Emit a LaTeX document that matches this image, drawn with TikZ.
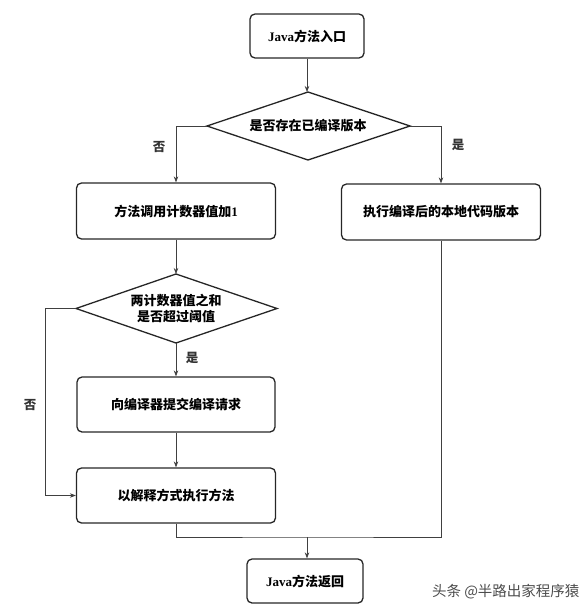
\documentclass[tikz,border=0pt]{standalone}
\usepackage{fontspec}
\setmainfont{Liberation Serif}
\newfontfamily\cjk{Noto Sans CJK SC}
\newcommand{\lat}[1]{{\rmfamily\bfseries #1}}
\usetikzlibrary{arrows.meta}
\tikzset{
  box/.style={draw=black!85, line width=1.3pt, rounded corners=5pt, inner sep=0pt, align=center, font=\cjk\bfseries\fontsize{13}{16}\selectfont},
  dec/.style={draw=black!85, line width=1.3pt, line join=miter},
  dectext/.style={inner sep=0pt, align=center, font=\cjk\bfseries\fontsize{13}{16}\selectfont},
  conn/.style={draw=black!75, line width=0.7pt},
  arr/.style={conn, -{Stealth[length=6pt,width=4.5pt]}},
  lbl/.style={font=\cjk\bfseries\fontsize{12.5}{15}\selectfont, text=black!80},
}
\begin{document}
\begin{tikzpicture}[x=1pt,y=-1pt]
\useasboundingbox (0,0) rectangle (588,605);
\node[box, minimum width=114pt, minimum height=44pt] (n1) at (307,36) {\lat{Java}方法入口};
% decision 1
\coordinate (d1n) at (308,92);
\coordinate (d1s) at (308,160);
\coordinate (d1w) at (207,126);
\coordinate (d1e) at (410,126);
\draw[dec] (d1n) -- (d1e) -- (d1s) -- (d1w) -- cycle;
\node[dectext] (d1) at (308,126) {是否存在已编译版本};
\node[box, minimum width=199pt, minimum height=56pt] (b2) at (176,211) {方法调用计数器值加\lat{1}};
\node[box, minimum width=199pt, minimum height=56pt] (b3) at (441,212) {执行编译后的本地代码版本};
% decision 2
\coordinate (d2n) at (176,274);
\coordinate (d2s) at (176,343);
\coordinate (d2w) at (76,308.5);
\coordinate (d2e) at (277,308.5);
\draw[dec] (d2n) -- (d2e) -- (d2s) -- (d2w) -- cycle;
\node[dectext] (d2) at (176,308.5) {两计数器值之和\\是否超过阈值};
\node[box, minimum width=198pt, minimum height=55pt] (b4) at (176,404.5) {向编译器提交编译请求};
\node[box, minimum width=199pt, minimum height=55pt] (b5) at (176,495.5) {以解释方式执行方法};
\node[box, minimum width=116pt, minimum height=44pt] (b6) at (305,581) {\lat{Java}方法返回};
\coordinate (j) at (307,537);
\coordinate (lft) at (45,308.5);

\draw[arr] (n1.south) -- (n1.south |- d1n);
\draw[arr] (d1w) -| (b2.north);
\draw[arr] (d1e) -| (b3.north);
\draw[arr] (b2.south) -- (d2n);
\draw[arr] (d2s) -- (b4.north);
\draw[arr] (d2w) -- (lft) |- (b5.west);
\draw[arr] (b4.south) -- (b5.north);
\draw[conn] (b5.south) |- (j) -| (b3.south);
\draw[arr] (j) -- (j |- b6.north);

\node[lbl] (l1) at (159,147) {否};
\node[lbl] (l2) at (458,145) {是};
\node[lbl] (l3) at (192,358) {是};
\node[lbl] (l4) at (30,405) {否};

\node[font=\cjk\fontsize{14.5}{16}\selectfont, text=black!70, anchor=east] (wm) at (583,592) {头条 @半路出家程序猿};
\end{tikzpicture}
\end{document}
